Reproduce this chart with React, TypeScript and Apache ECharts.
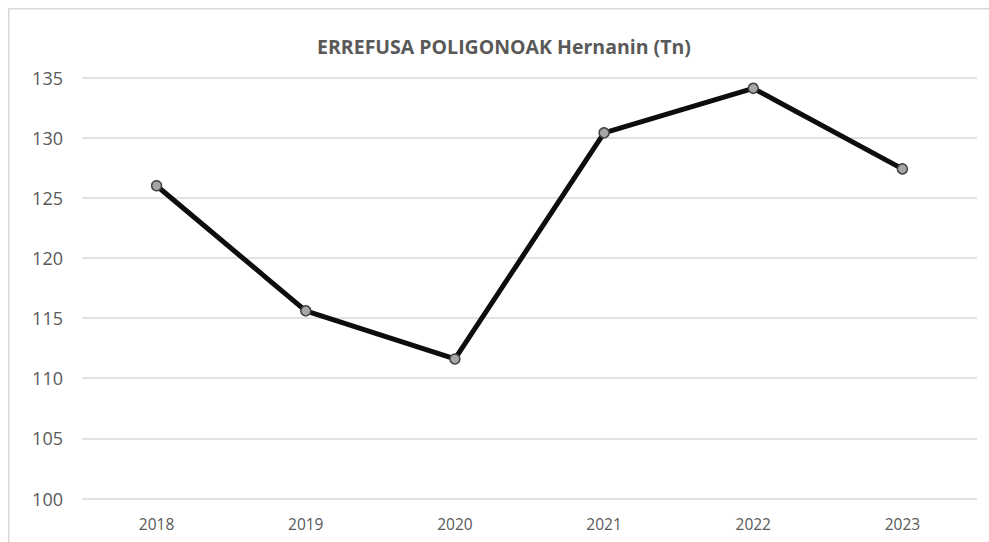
import React, { useEffect, useRef } from "react";
import * as echarts from "echarts";

const categories = ["2018", "2019", "2020", "2021", "2022", "2023"];
const values = [126.0, 115.6, 111.6, 130.4, 134.1, 127.4];
const yMin = 100;
const yMax = 135;
const yInterval = 5;
const titleText = "ERREFUSA POLIGONOAK Hernanin (Tn)";

export default function App() {
  const ref = useRef<HTMLDivElement>(null);
  useEffect(() => {
    document.documentElement.style.overflow = "hidden";
    document.body.style.overflow = "hidden";
    const chart = echarts.init(ref.current!, null, { renderer: "svg" });
    const font = "'Open Sans', 'Noto Sans', sans-serif";
    chart.setOption({
      animation: false,
      backgroundColor: "#ffffff",
      title: {
        text: titleText,
        left: 491,
        top: 23,
        textAlign: "center",
        textStyle: { fontFamily: font, fontSize: 19.5, fontWeight: "bold", color: "#595959" },
      },
      graphic: [
        {
          type: "line",
          shape: { x1: 0, y1: 0.75, x2: 981, y2: 0.75 },
          style: { stroke: "#d9d9d9", lineWidth: 1.5 },
          silent: true,
        },
        {
          type: "line",
          shape: { x1: 0.75, y1: 0, x2: 0.75, y2: 534 },
          style: { stroke: "#d9d9d9", lineWidth: 1.5 },
          silent: true,
        },
      ],
      grid: { left: 74, right: 12, top: 69.5, bottom: 43.5 },
      xAxis: {
        type: "category",
        data: categories,
        boundaryGap: true,
        axisLine: { show: false },
        axisTick: { show: false },
        axisLabel: { fontFamily: font, fontSize: 15.5, color: "#595959", margin: 17 },
      },
      yAxis: {
        type: "value",
        min: yMin,
        max: yMax,
        interval: yInterval,
        axisLine: { show: false },
        axisTick: { show: false },
        axisLabel: { fontFamily: font, fontSize: 18, color: "#595959", margin: 19 },
        splitLine: { lineStyle: { color: "#d9d9d9", width: 1.5 } },
      },
      series: [
        {
          type: "line",
          data: values,
          symbol: "circle",
          symbolSize: 10,
          lineStyle: { color: "#0d0d0d", width: 5 },
          itemStyle: { color: "#a6a6a6", borderColor: "#404040", borderWidth: 1.5 },
        },
      ],
    });
    return () => chart.dispose();
  }, []);
  return (
    <div
      ref={ref}
      style={{ position: "fixed", left: 8, top: 8, width: 981, height: 534 }}
    />
  );
}
